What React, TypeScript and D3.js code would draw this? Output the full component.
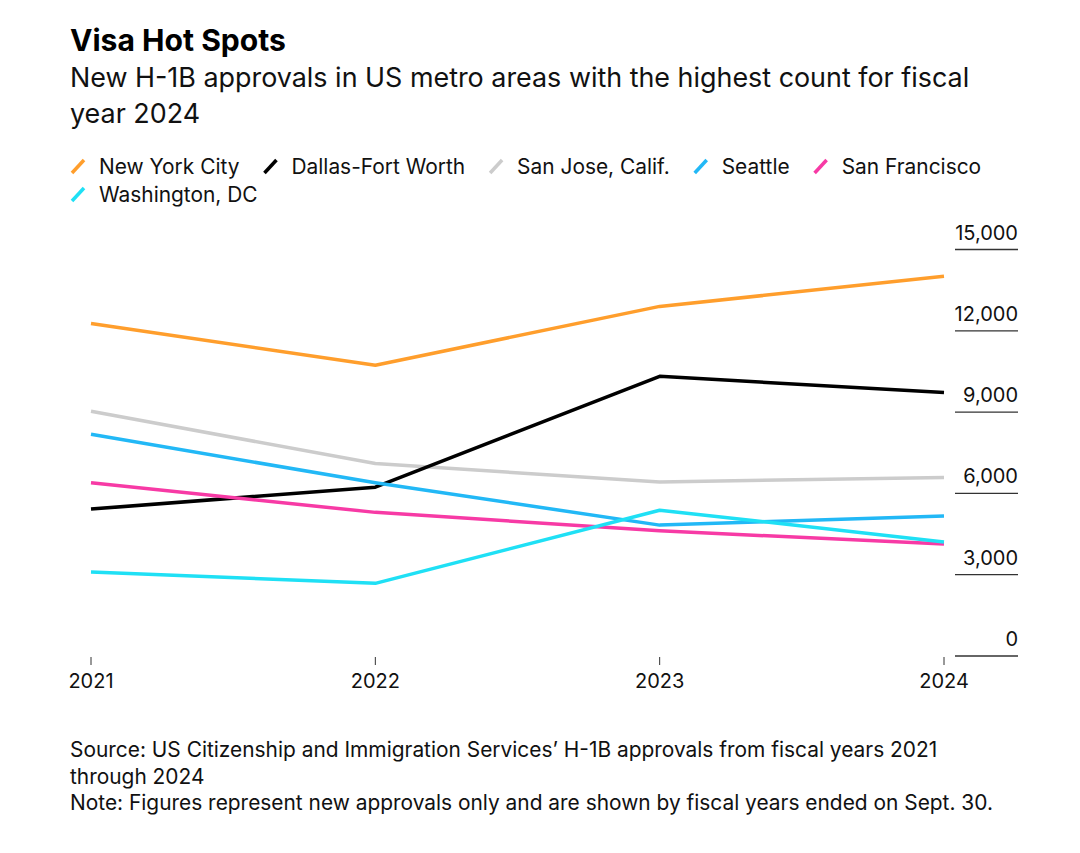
import React, { useEffect, useRef } from "react";
import * as d3 from "d3";

const years = [2021, 2022, 2023, 2024];
const seriesNames = ["New York City", "Dallas-Fort Worth", "San Jose, Calif.", "Seattle", "San Francisco", "Washington, DC"];
const seriesColors = ["#ff9e2c", "#000000", "#cccccc", "#22b8f6", "#f73aa5", "#1fe0f5"];
const nycValues = [12270, 10730, 12900, 14010];
const dallasValues = [5420, 6230, 10320, 9720];
const sanJoseValues = [9030, 7100, 6420, 6590];
const seattleValues = [8180, 6390, 4830, 5170];
const sanFranciscoValues = [6390, 5300, 4620, 4130];
const washingtonValues = [3100, 2680, 5380, 4210];
const yTicks = [0, 3000, 6000, 9000, 12000, 15000];

const FONT = "Inter, 'Liberation Sans', Arial, sans-serif";

export default function App() {
  const ref = useRef<SVGSVGElement>(null);
  useEffect(() => {
    const svg = d3.select(ref.current);
    svg.selectAll("*").remove();
    const allValues = [nycValues, dallasValues, sanJoseValues, seattleValues, sanFranciscoValues, washingtonValues];

    svg.append("text").attr("x", 70).attr("y", 51).attr("font-family", FONT).attr("font-weight", 700)
      .attr("font-size", 30.1).attr("fill", "#000").text("Visa Hot Spots");
    const sub = svg.append("text").attr("font-family", FONT).attr("font-size", 26.9).attr("fill", "#111");
    sub.append("tspan").attr("x", 70).attr("y", 87).text("New H-1B approvals in US metro areas with the highest count for fiscal");
    sub.append("tspan").attr("x", 70).attr("y", 123).text("year 2024");

    // legend
    const legend = svg.append("g");
    let lx = 70, ly = 174;
    seriesNames.forEach((name, i) => {
      const g = legend.append("g");
      g.append("line").attr("x1", lx + 2).attr("y1", ly - 1).attr("x2", lx + 14).attr("y2", ly - 14)
        .attr("stroke", seriesColors[i]).attr("stroke-width", 3.5);
      const t = g.append("text").attr("x", lx + 29).attr("y", ly).attr("font-family", FONT)
        .attr("font-size", 20.9).attr("fill", "#111").text(name);
      const w = (t.node() as SVGTextElement).getComputedTextLength();
      const itemW = 29 + w + 23;
      if (lx + 29 + w > 1010 && lx > 70) {
        lx = 70; ly += 28;
        g.select("line").attr("x1", lx + 2).attr("y1", ly - 1).attr("x2", lx + 14).attr("y2", ly - 14);
        t.attr("x", lx + 29).attr("y", ly);
        lx += itemW;
      } else {
        lx += itemW;
      }
    });

    const x = d3.scaleLinear().domain([2021, 2024]).range([91, 944]);
    const y = d3.scaleLinear().domain([0, 15000]).range([656, 249.5]);

    // y grid + labels
    const yg = svg.append("g");
    yTicks.forEach((v) => {
      yg.append("line").attr("x1", 955).attr("x2", 1018).attr("y1", y(v)).attr("y2", y(v))
        .attr("stroke", "#333").attr("stroke-width", 1.3);
      yg.append("text").attr("x", 1018).attr("y", y(v) - 10).attr("text-anchor", "end")
        .attr("font-family", FONT).attr("font-size", 20).attr("fill", "#111").text(d3.format(",")(v));
    });

    // x ticks
    const xg = svg.append("g");
    years.forEach((yr) => {
      xg.append("line").attr("x1", x(yr)).attr("x2", x(yr)).attr("y1", 657).attr("y2", 665)
        .attr("stroke", "#333").attr("stroke-width", 1);
      xg.append("text").attr("x", x(yr)).attr("y", 688).attr("text-anchor", "middle")
        .attr("font-family", FONT).attr("font-size", 20).attr("fill", "#111").text(String(yr));
    });

    const line = d3.line<number>().x((_, i) => x(years[i])).y((d) => y(d));
    const order = [2, 0, 1, 3, 4, 5];
    order.forEach((i) => {
      svg.append("path").attr("d", line(allValues[i]) as string).attr("fill", "none")
        .attr("stroke", seriesColors[i]).attr("stroke-width", 3.5).attr("stroke-linejoin", "round");
    });

    const foot = svg.append("text").attr("font-family", FONT).attr("font-size", 20.9).attr("fill", "#111");
    foot.append("tspan").attr("x", 70).attr("y", 757).text("Source: US Citizenship and Immigration Services’ H-1B approvals from fiscal years 2021");
    foot.append("tspan").attr("x", 70).attr("y", 784).text("through 2024");
    foot.append("tspan").attr("x", 70).attr("y", 810).text("Note: Figures represent new approvals only and are shown by fiscal years ended on Sept. 30.");
  }, []);
  return (
    <svg ref={ref} width={1080} height={853} style={{ position: "absolute", left: 0, top: 0, background: "#fff" }} />
  );
}
